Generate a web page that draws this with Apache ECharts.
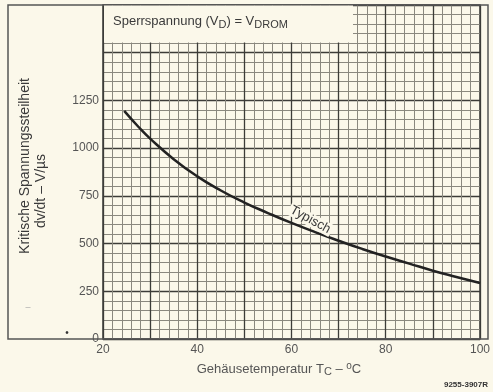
<!DOCTYPE html>
<html>
<head>
<meta charset="utf-8">
<script src="https://cdn.jsdelivr.net/npm/echarts@6/dist/echarts.min.js"></script>
<style>
  html, body { margin: 0; padding: 0; background: #fbf8ea; }
  #chart { width: 493px; height: 392px; }
</style>
</head>
<body>
<div id="chart"></div>
<script>
// Gehäusetemperatur (°C) und kritische Spannungssteilheit (V/µs)
const temps = [24.5, 27.5, 30, 35, 40, 45, 50, 55, 60, 65, 70, 75, 80, 85, 90, 95, 100]
const dvdt = [1195, 1112, 1050, 942, 852, 778, 715, 660, 608, 560, 515, 472, 432, 395, 358, 325, 293]
const xLabels = [20, 40, 60, 80, 100]
const yLabels = [0, 250, 500, 750, 1000, 1250]
const curveName = 'Typisch'

const font = 'Liberation Sans, Arial, sans-serif'
const ink = '#3a3a3a'

const chart = echarts.init(document.getElementById('chart'), null, { renderer: 'canvas' })

chart.setOption({
  backgroundColor: '#fbf8ea',
  animation: false,
  grid: {
    left: 103, right: 5, top: 5, bottom: 53,
    show: true,
    backgroundColor: '#fbf8ea',
    borderColor: '#3a3a3a',
    borderWidth: 1.5
  },
  xAxis: {
    type: 'value',
    min: 20, max: 100, interval: 10,
    axisLine: { show: false },
    axisTick: { show: false },
    axisLabel: {
      color: '#555', fontFamily: font, fontSize: 12, margin: 5,
      formatter: v => xLabels.includes(v) ? String(v) : ''
    },
    splitLine: { show: true, lineStyle: { color: '#3c3c38', width: 1.3 } },
    minorTick: { show: false, splitNumber: 5 },
    minorSplitLine: { show: true, lineStyle: { color: '#8a887e', width: 1 } }
  },
  yAxis: {
    type: 'value',
    min: 0, max: 1750, interval: 250,
    axisLine: { show: false },
    axisTick: { show: false },
    axisLabel: {
      color: '#555', fontFamily: font, fontSize: 12, margin: 4,
      formatter: v => yLabels.includes(v) ? String(v) : ''
    },
    splitLine: { show: true, lineStyle: { color: '#3c3c38', width: 1.3 } },
    minorTick: { show: false, splitNumber: 5 },
    minorSplitLine: { show: true, lineStyle: { color: '#8a887e', width: 1 } }
  },
  series: [{
    name: curveName,
    type: 'line',
    smooth: true,
    symbol: 'none',
    lineStyle: { color: '#222', width: 2.5 },
    data: temps.map((t, i) => [t, dvdt[i]]),
    z: 5
  }]
})

// Beschriftungen, Titelkasten und Rahmen
const labelPos = chart.convertToPixel({ seriesIndex: 0 }, [64, 625])

chart.setOption({
  graphic: [
    {
      type: 'rect', z: 1,
      shape: { x: 8, y: 5, width: 480, height: 334 },
      style: { fill: 'none', stroke: '#555', lineWidth: 1.5 }
    },
    {
      type: 'rect', z: 10,
      shape: { x: 104, y: 5.5, width: 249, height: 37 },
      style: { fill: '#fbf8ea', stroke: null }
    },
    {
      type: 'text', z: 11, left: 113, top: 15,
      style: {
        text: '{n|Sperrspannung (V}{s|D}{n|) = V}{s|DROM}',
        rich: {
          n: { fontFamily: font, fontSize: 13, fill: ink },
          s: { fontFamily: font, fontSize: 11, fill: ink, padding: [6, 0, 0, 0] }
        }
      }
    },
    {
      type: 'text', z: 11,
      x: labelPos[0], y: labelPos[1], rotation: -0.5,
      style: {
        text: curveName, fontFamily: font, fontSize: 13, fill: ink,
        align: 'center', verticalAlign: 'middle',
        backgroundColor: '#fbf8ea', padding: [0, 2]
      }
    },
    {
      type: 'text', z: 11, x: 25, y: 166, rotation: Math.PI / 2,
      style: {
        text: 'Kritische Spannungssteilheit', fontFamily: font, fontSize: 14,
        fill: ink, align: 'center', verticalAlign: 'middle'
      }
    },
    {
      type: 'text', z: 11, x: 41, y: 191, rotation: Math.PI / 2,
      style: {
        text: 'dv/dt – V/µs', fontFamily: font, fontSize: 14,
        fill: ink, align: 'center', verticalAlign: 'middle'
      }
    },
    {
      type: 'text', z: 11, x: 279, y: 369,
      style: {
        text: '{n|Gehäusetemperatur T}{s|C}{n| – }{p|o}{n|C}',
        align: 'center', verticalAlign: 'middle',
        rich: {
          n: { fontFamily: font, fontSize: 13, fill: '#555' },
          s: { fontFamily: font, fontSize: 11, fill: '#555', padding: [6, 0, 0, 0] },
          p: { fontFamily: font, fontSize: 10, fill: '#555', padding: [0, 0, 6, 0] }
        }
      }
    },
    {
      type: 'text', z: 11, x: 488, y: 385,
      style: {
        text: '9255-3907R', fontFamily: font, fontSize: 8, fontWeight: 'bold',
        fill: '#333', align: 'right', verticalAlign: 'middle'
      }
    },
    {
      type: 'text', z: 11, x: 67, y: 333,
      style: { text: '•', fontFamily: font, fontSize: 10, fill: '#333', align: 'center', verticalAlign: 'middle' }
    },
    {
      type: 'text', z: 11, x: 28, y: 308,
      style: { text: '–', fontFamily: font, fontSize: 9, fill: '#aaa', align: 'center', verticalAlign: 'middle' }
    }
  ]
})

window.addEventListener('resize', () => chart.resize())
</script>
</body>
</html>
